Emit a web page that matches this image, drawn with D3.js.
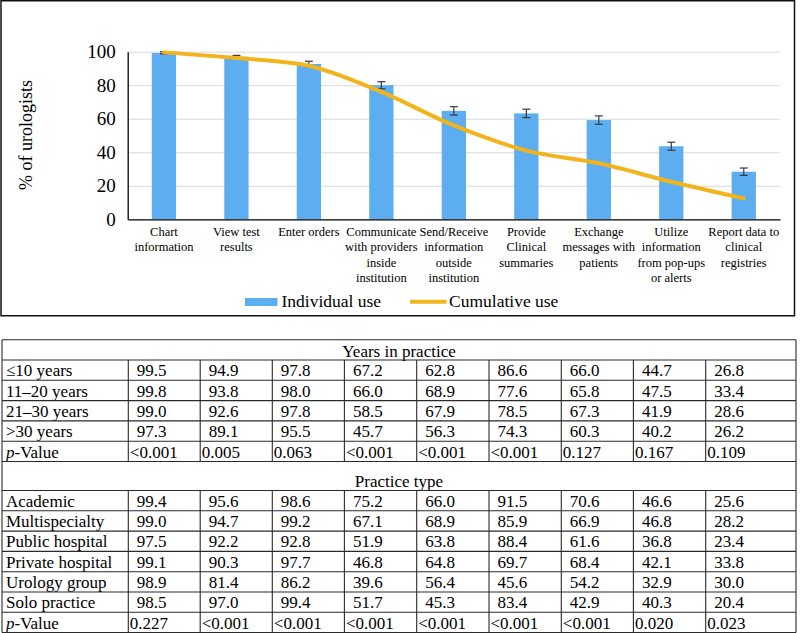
<!DOCTYPE html>
<html>
<head>
<meta charset="utf-8">
<script src="https://cdn.jsdelivr.net/npm/d3@7/dist/d3.min.js"></script>
<style>
  html, body { margin: 0; padding: 0; background: #fff; }
  svg { display: block; }
  svg text { font-family: "Liberation Serif", "Times New Roman", serif; }
</style>
</head>
<body>
<svg id="chart" width="800" height="633"></svg>
<script>
// ---------- DATA ----------
const categories = [
  "Chart\ninformation",
  "View test\nresults",
  "Enter orders",
  "Communicate\nwith providers\ninside\ninstitution",
  "Send/Receive\ninformation\noutside\ninstitution",
  "Provide\nClinical\nsummaries",
  "Exchange\nmessages with\npatients",
  "Utilize\ninformation\nfrom pop-ups\nor alerts",
  "Report data to\nclinical\nregistries"
];
const individualUse = [99.3, 97.0, 92.7, 80.0, 64.7, 63.2, 59.2, 43.6, 28.4];
const errorMargin   = [0.6, 0.8, 1.6, 2.1, 2.5, 2.5, 2.5, 2.4, 2.2];
const cumulativeUse = [99.6, 96.2, 91.6, 76.0, 56.0, 41.0, 33.4, 22.4, 12.5];
const yTicks = [0, 20, 40, 60, 80, 100];
const yLabel = "% of urologists";
const legendLabels = ["Individual use", "Cumulative use"];

const yearsTitle = "Years in practice";
const yearsLabels = ["≤10 years", "11–20 years", "21–30 years", ">30 years"];
const yearsValues = [
  ["99.5", "94.9", "97.8", "67.2", "62.8", "86.6", "66.0", "44.7", "26.8"],
  ["99.8", "93.8", "98.0", "66.0", "68.9", "77.6", "65.8", "47.5", "33.4"],
  ["99.0", "92.6", "97.8", "58.5", "67.9", "78.5", "67.3", "41.9", "28.6"],
  ["97.3", "89.1", "95.5", "45.7", "56.3", "74.3", "60.3", "40.2", "26.2"]
];
const yearsP = ["<0.001", "0.005", "0.063", "<0.001", "<0.001", "<0.001", "0.127", "0.167", "0.109"];

const practiceTitle = "Practice type";
const practiceLabels = ["Academic", "Multispecialty", "Public hospital", "Private hospital", "Urology group", "Solo practice"];
const practiceValues = [
  ["99.4", "95.6", "98.6", "75.2", "66.0", "91.5", "70.6", "46.6", "25.6"],
  ["99.0", "94.7", "99.2", "67.1", "68.9", "85.9", "66.9", "46.8", "28.2"],
  ["97.5", "92.2", "92.8", "51.9", "63.8", "88.4", "61.6", "36.8", "23.4"],
  ["99.1", "90.3", "97.7", "46.8", "64.8", "69.7", "68.4", "42.1", "33.8"],
  ["98.9", "81.4", "86.2", "39.6", "56.4", "45.6", "54.2", "32.9", "30.0"],
  ["98.5", "97.0", "99.4", "51.7", "45.3", "83.4", "42.9", "40.3", "20.4"]
];
const practiceP = ["0.227", "<0.001", "<0.001", "<0.001", "<0.001", "<0.001", "<0.001", "0.020", "0.023"];

// ---------- CHART ----------
const FONT = "Liberation Serif, Times New Roman, serif";
const svg = d3.select("#chart");
const BLUE = "#5caef0", GOLD = "#f2b41c";

// chart frame
svg.append("rect").attr("x", 1).attr("y", 0.75).attr("width", 793.5).attr("height", 315)
  .attr("fill", "none").attr("stroke", "#111").attr("stroke-width", 1.5);

const plot = { left: 127.7, right: 780, top: 51.7, bottom: 219.3 };
const x = d3.scaleBand().domain(d3.range(categories.length))
  .range([plot.left, plot.right]).paddingInner(0.665).paddingOuter(0.3325);
const y = d3.scaleLinear().domain([0, 100]).range([plot.bottom, plot.top]);
const cx = i => x(i) + x.bandwidth() / 2;

// gridlines
svg.append("g").attr("transform", `translate(${plot.left},0)`)
  .call(d3.axisLeft(y).tickValues(yTicks.slice(1)).tickSize(-(plot.right - plot.left)).tickFormat(""))
  .call(g => g.select(".domain").remove())
  .call(g => g.selectAll("line").attr("stroke", "#d9d9d9").attr("stroke-width", 1));

// bars
svg.append("g").selectAll("rect").data(individualUse).join("rect")
  .attr("x", (d, i) => x(i)).attr("width", x.bandwidth())
  .attr("y", d => y(d)).attr("height", d => y(0) - y(d))
  .attr("fill", BLUE);

// error bars
const eb = svg.append("g").attr("stroke", "#3a3a3a").attr("stroke-width", 1.2);
individualUse.forEach((v, i) => {
  const c = cx(i), hi = y(v + errorMargin[i]), lo = y(v - errorMargin[i]);
  eb.append("line").attr("x1", c).attr("x2", c).attr("y1", hi).attr("y2", lo);
  eb.append("line").attr("x1", c - 4).attr("x2", c + 4).attr("y1", hi).attr("y2", hi);
  eb.append("line").attr("x1", c - 4).attr("x2", c + 4).attr("y1", lo).attr("y2", lo);
});

// y axis
const yAxis = svg.append("g").attr("transform", `translate(${plot.left},0)`)
  .call(d3.axisLeft(y).tickValues(yTicks).tickSize(0).tickSizeOuter(0).tickPadding(12))
  .attr("font-family", FONT).attr("font-size", 19);
yAxis.select(".domain").attr("stroke", "#000").attr("stroke-width", 1.3);
yAxis.selectAll("text").attr("font-family", FONT).attr("font-size", 19).attr("fill", "#000");

// x axis
const xAxis = svg.append("g").attr("transform", `translate(0,${plot.bottom})`)
  .call(d3.axisBottom(x).tickSize(0).tickSizeOuter(0).tickFormat(""));
xAxis.select(".domain").attr("stroke", "#000").attr("stroke-width", 1.3);

// category labels
const catG = svg.append("g").attr("font-family", FONT).attr("font-size", 12.5)
  .attr("text-anchor", "middle").attr("fill", "#000");
categories.forEach((c, i) => {
  const t = catG.append("text").attr("x", cx(i)).attr("y", plot.bottom + 16.5);
  c.split("\n").forEach((ln, k) => {
    t.append("tspan").attr("x", cx(i)).attr("dy", k === 0 ? 0 : 15.5).text(ln);
  });
});

// y label
svg.append("text").attr("transform", `translate(32,135) rotate(-90)`)
  .attr("font-family", FONT).attr("text-anchor", "middle").attr("font-size", 18).attr("fill", "#000").text(yLabel);

// cumulative line
const line = d3.line().x((d, i) => cx(i)).y(d => y(d)).curve(d3.curveCatmullRom.alpha(0.5));
svg.append("path").datum(cumulativeUse).attr("d", line)
  .attr("fill", "none").attr("stroke", GOLD).attr("stroke-width", 4).attr("stroke-linecap", "round");

// legend
const lg = svg.append("g").attr("font-family", FONT).attr("font-size", 17.5).attr("fill", "#000");
lg.append("rect").attr("x", 245).attr("y", 298).attr("width", 32.5).attr("height", 8).attr("fill", BLUE);
lg.append("text").attr("x", 281.5).attr("y", 307).text(legendLabels[0]);
lg.append("line").attr("x1", 410).attr("x2", 446.5).attr("y1", 301.8).attr("y2", 301.8)
  .attr("stroke", GOLD).attr("stroke-width", 4);
lg.append("text").attr("x", 449).attr("y", 307).text(legendLabels[1]);

// ---------- TABLE ----------
const colEdges = [2, 128.3, 200.2, 272.3, 344.4, 416.7, 489, 561.3, 633.4, 705.7, 796];
const rowH = 20.3;
const tbl = svg.append("g").attr("font-family", FONT).attr("font-size", 17).attr("fill", "#000");
const lineColor = "#2a2a2a";

function hline(yy, x1 = colEdges[0], x2 = colEdges[colEdges.length - 1]) {
  tbl.append("line").attr("x1", x1).attr("x2", x2).attr("y1", yy).attr("y2", yy)
    .attr("stroke", lineColor).attr("stroke-width", 1.1);
}
function vline(xx, y1, y2) {
  tbl.append("line").attr("x1", xx).attr("x2", xx).attr("y1", y1).attr("y2", y2)
    .attr("stroke", lineColor).attr("stroke-width", 1.1);
}

function section(top, headerH, title, labels, values, pvals) {
  hline(top);
  tbl.append("text").attr("x", 399).attr("y", top + headerH - 3.5).attr("text-anchor", "middle").text(title);
  const rowsTop = top + headerH;
  const rows = labels.map((l, i) => ({ label: l, cells: values[i], p: false }));
  rows.push({ label: "p-Value", cells: pvals, p: true });
  rows.forEach((r, i) => {
    const ry = rowsTop + i * rowH;
    hline(ry);
    const t = tbl.append("text").attr("x", 6).attr("y", ry + 16.3);
    if (r.p) {
      t.append("tspan").attr("font-style", "italic").text("p");
      t.append("tspan").text("-Value");
    } else t.text(r.label);
    r.cells.forEach((c, j) => {
      const isP = r.p;
      tbl.append("text").attr("x", colEdges[j + 1] + (isP ? 1.5 : 8.5)).attr("y", ry + 16.3).text(c);
    });
  });
  const bottom = rowsTop + rows.length * rowH;
  colEdges.slice(1, -1).forEach(xx => vline(xx, rowsTop, bottom));
  return bottom;
}

const t0 = 339.8;
const b1 = section(t0, 20.2, yearsTitle, yearsLabels, yearsValues, yearsP);
const b2 = section(b1, 29, practiceTitle, practiceLabels, practiceValues, practiceP);
hline(b2);
vline(colEdges[0], t0, b2);
vline(colEdges[colEdges.length - 1], t0, b2);
</script>
</body>
</html>
